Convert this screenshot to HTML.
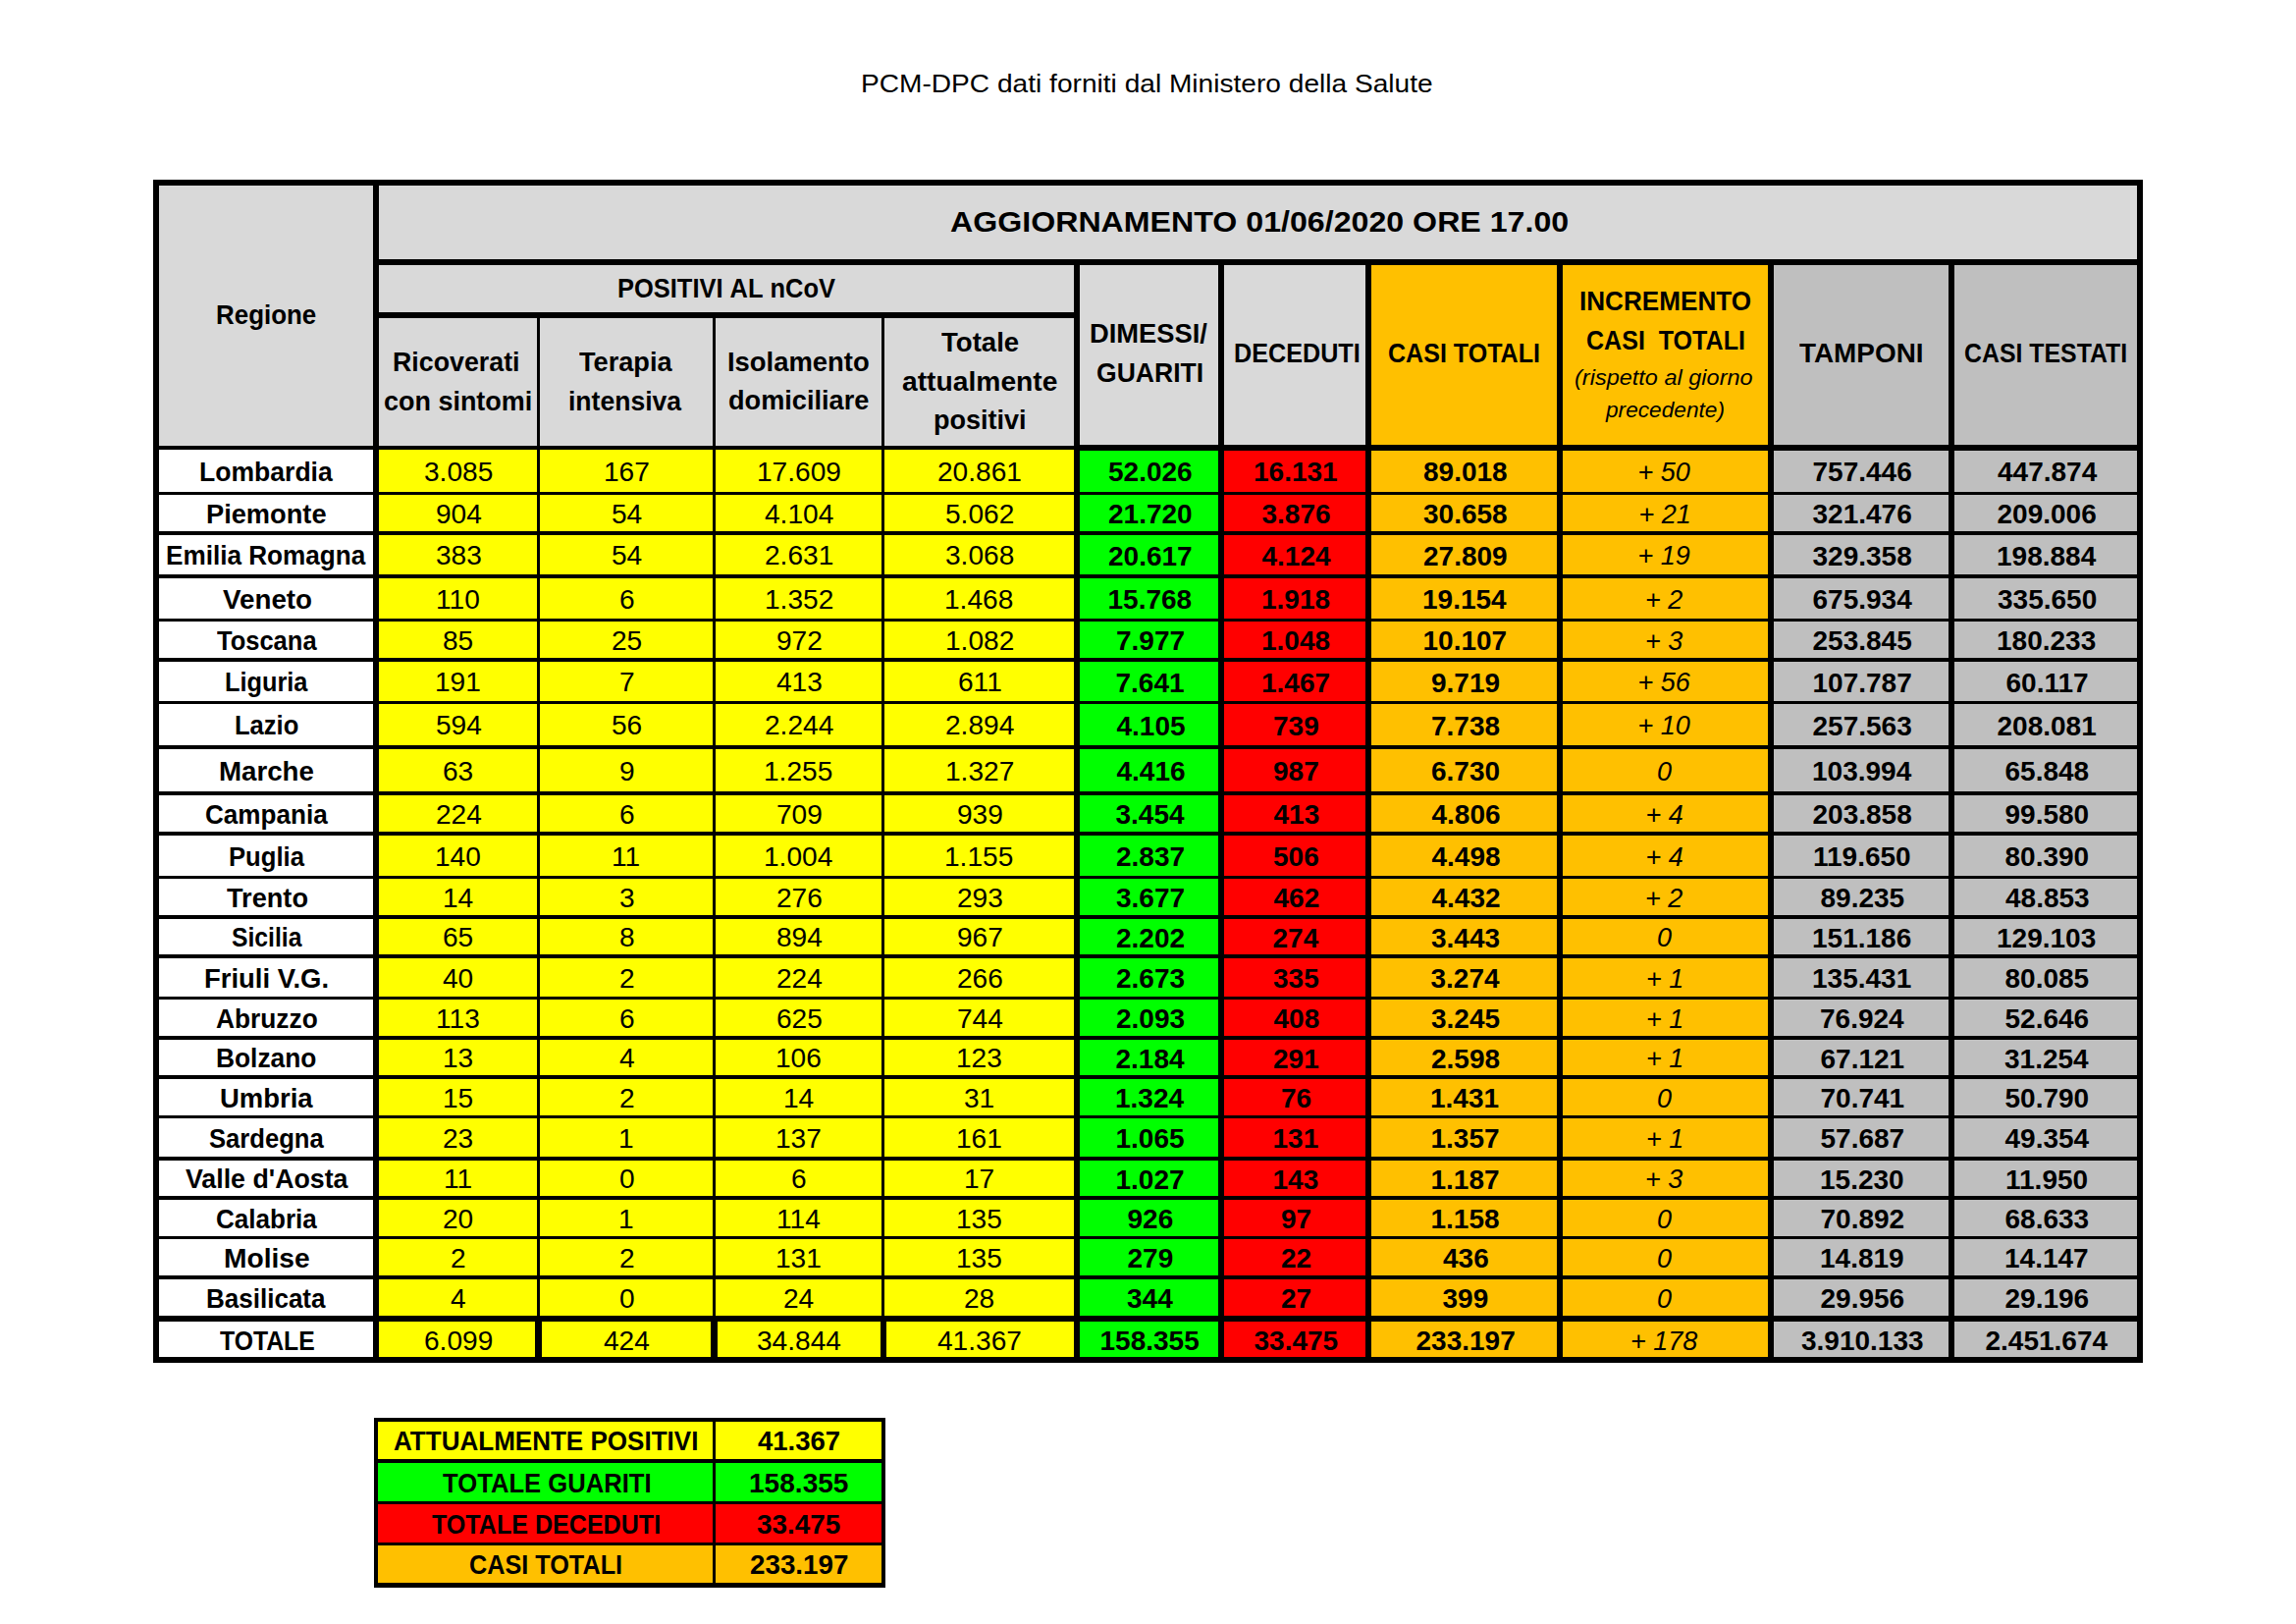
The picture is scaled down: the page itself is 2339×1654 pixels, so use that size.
<!DOCTYPE html>
<html><head><meta charset="utf-8"><style>
html,body{margin:0;padding:0;}
body{width:2339px;height:1654px;position:relative;overflow:hidden;background:#fff;font-family:"Liberation Sans", sans-serif;color:#000;}
body>div{position:absolute;}
.t{white-space:nowrap;transform-origin:0 50%;}
</style></head><body>
<div style="left:156px;top:183px;width:2027px;height:1205px;background:#D9D9D9"></div>
<div style="left:162px;top:458px;width:218px;height:924px;background:#FFFFFF"></div>
<div style="left:386px;top:458px;width:708px;height:924px;background:#FFFF00"></div>
<div style="left:1100px;top:458px;width:141px;height:924px;background:#00FF00"></div>
<div style="left:1247px;top:458px;width:144px;height:924px;background:#FF0000"></div>
<div style="left:1397px;top:270px;width:404px;height:1112px;background:#FFC000"></div>
<div style="left:1807px;top:270px;width:370px;height:1112px;background:#BFBFBF"></div>
<div style="left:156px;top:183px;width:2027px;height:6px;background:#000000"></div>
<div style="left:156px;top:1382px;width:2027px;height:6px;background:#000000"></div>
<div style="left:156px;top:183px;width:6px;height:1205px;background:#000000"></div>
<div style="left:2177px;top:183px;width:6px;height:1205px;background:#000000"></div>
<div style="left:380px;top:183px;width:6px;height:1205px;background:#000000"></div>
<div style="left:380px;top:264px;width:1803px;height:6px;background:#000000"></div>
<div style="left:380px;top:318px;width:720px;height:6px;background:#000000"></div>
<div style="left:547px;top:318px;width:3px;height:1070px;background:#000000"></div>
<div style="left:726px;top:318px;width:3px;height:1070px;background:#000000"></div>
<div style="left:898px;top:318px;width:3px;height:1070px;background:#000000"></div>
<div style="left:1094px;top:264px;width:6px;height:1124px;background:#000000"></div>
<div style="left:1241px;top:264px;width:6px;height:1124px;background:#000000"></div>
<div style="left:1391px;top:264px;width:6px;height:1124px;background:#000000"></div>
<div style="left:1586px;top:264px;width:6px;height:1124px;background:#000000"></div>
<div style="left:1801px;top:264px;width:6px;height:1124px;background:#000000"></div>
<div style="left:1985px;top:264px;width:6px;height:1124px;background:#000000"></div>
<div style="left:156px;top:454px;width:938px;height:4px;background:#000000"></div>
<div style="left:1094px;top:453px;width:1089px;height:6px;background:#000000"></div>
<div style="left:156px;top:501px;width:2027px;height:3px;background:#000000"></div>
<div style="left:156px;top:541px;width:2027px;height:4px;background:#000000"></div>
<div style="left:156px;top:585px;width:2027px;height:4px;background:#000000"></div>
<div style="left:156px;top:630px;width:2027px;height:3px;background:#000000"></div>
<div style="left:156px;top:670px;width:2027px;height:4px;background:#000000"></div>
<div style="left:156px;top:714px;width:2027px;height:3px;background:#000000"></div>
<div style="left:156px;top:759px;width:2027px;height:4px;background:#000000"></div>
<div style="left:156px;top:806px;width:2027px;height:4px;background:#000000"></div>
<div style="left:156px;top:847px;width:2027px;height:4px;background:#000000"></div>
<div style="left:156px;top:892px;width:2027px;height:3px;background:#000000"></div>
<div style="left:156px;top:932px;width:2027px;height:4px;background:#000000"></div>
<div style="left:156px;top:972px;width:2027px;height:4px;background:#000000"></div>
<div style="left:156px;top:1015px;width:2027px;height:3px;background:#000000"></div>
<div style="left:156px;top:1055px;width:2027px;height:4px;background:#000000"></div>
<div style="left:156px;top:1095px;width:2027px;height:4px;background:#000000"></div>
<div style="left:156px;top:1136px;width:2027px;height:3px;background:#000000"></div>
<div style="left:156px;top:1178px;width:2027px;height:4px;background:#000000"></div>
<div style="left:156px;top:1218px;width:2027px;height:4px;background:#000000"></div>
<div style="left:156px;top:1259px;width:2027px;height:3px;background:#000000"></div>
<div style="left:156px;top:1299px;width:2027px;height:4px;background:#000000"></div>
<div style="left:156px;top:1340px;width:2027px;height:6px;background:#000000"></div>
<div style="left:545px;top:1340px;width:7px;height:48px;background:#000000"></div>
<div style="left:724px;top:1340px;width:7px;height:48px;background:#000000"></div>
<div style="left:897px;top:1340px;width:6px;height:48px;background:#000000"></div>
<div style="left:381px;top:1448px;width:521px;height:38px;background:#FFFF00"></div>
<div style="left:381px;top:1490px;width:521px;height:39px;background:#00FF00"></div>
<div style="left:381px;top:1532px;width:521px;height:39px;background:#FF0000"></div>
<div style="left:381px;top:1574px;width:521px;height:38px;background:#FFC000"></div>
<div style="left:381px;top:1444px;width:521px;height:4px;background:#000000"></div>
<div style="left:381px;top:1486px;width:521px;height:4px;background:#000000"></div>
<div style="left:381px;top:1529px;width:521px;height:3px;background:#000000"></div>
<div style="left:381px;top:1571px;width:521px;height:3px;background:#000000"></div>
<div style="left:381px;top:1612px;width:521px;height:5px;background:#000000"></div>
<div style="left:381px;top:1444px;width:4px;height:173px;background:#000000"></div>
<div style="left:726px;top:1444px;width:3px;height:173px;background:#000000"></div>
<div style="left:898px;top:1444px;width:4px;height:173px;background:#000000"></div>
<div class="t" style="left:876.95px;top:73.19px;font-size:25px;line-height:25px;font-weight:normal;font-style:normal;transform:scaleX(1.1243);">PCM-DPC&#160;dati&#160;forniti&#160;dal&#160;Ministero&#160;della&#160;Salute</div>
<div class="t" style="left:967.58px;top:211.40px;font-size:30px;line-height:30px;font-weight:bold;font-style:normal;transform:scaleX(1.0717);">AGGIORNAMENTO&#160;01/06/2020&#160;ORE&#160;17.00</div>
<div class="t" style="left:629.18px;top:279.95px;font-size:28px;line-height:28px;font-weight:bold;font-style:normal;transform:scaleX(0.9091);">POSITIVI&#160;AL&#160;nCoV</div>
<div class="t" style="left:220.40px;top:306.57px;font-size:28px;line-height:28px;font-weight:bold;font-style:normal;transform:scaleX(0.9259);">Regione</div>
<div class="t" style="left:400.34px;top:355.22px;font-size:28px;line-height:28px;font-weight:bold;font-style:normal;transform:scaleX(0.9564);">Ricoverati</div>
<div class="t" style="left:390.54px;top:394.72px;font-size:28px;line-height:28px;font-weight:bold;font-style:normal;transform:scaleX(0.9627);">con&#160;sintomi</div>
<div class="t" style="left:589.75px;top:355.22px;font-size:28px;line-height:28px;font-weight:bold;font-style:normal;transform:scaleX(0.9694);">Terapia</div>
<div class="t" style="left:579.10px;top:394.72px;font-size:28px;line-height:28px;font-weight:bold;font-style:normal;transform:scaleX(0.9479);">intensiva</div>
<div class="t" style="left:741.04px;top:355.22px;font-size:28px;line-height:28px;font-weight:bold;font-style:normal;transform:scaleX(0.9793);">Isolamento</div>
<div class="t" style="left:742.03px;top:393.97px;font-size:28px;line-height:28px;font-weight:bold;font-style:normal;transform:scaleX(0.9692);">domiciliare</div>
<div class="t" style="left:958.75px;top:335.22px;font-size:28px;line-height:28px;font-weight:bold;font-style:normal;transform:scaleX(0.9844);">Totale</div>
<div class="t" style="left:918.99px;top:374.72px;font-size:28px;line-height:28px;font-weight:bold;font-style:normal;transform:scaleX(1.0081);">attualmente</div>
<div class="t" style="left:951.07px;top:413.97px;font-size:28px;line-height:28px;font-weight:bold;font-style:normal;transform:scaleX(0.9654);">positivi</div>
<div class="t" style="left:1110.05px;top:326.47px;font-size:28px;line-height:28px;font-weight:bold;font-style:normal;transform:scaleX(0.9752);">DIMESSI/</div>
<div class="t" style="left:1116.55px;top:366.47px;font-size:28px;line-height:28px;font-weight:bold;font-style:normal;transform:scaleX(0.9487);">GUARITI</div>
<div class="t" style="left:1256.95px;top:345.72px;font-size:28px;line-height:28px;font-weight:bold;font-style:normal;transform:scaleX(0.8993);">DECEDUTI</div>
<div class="t" style="left:1414.11px;top:345.72px;font-size:28px;line-height:28px;font-weight:bold;font-style:normal;transform:scaleX(0.8947);">CASI&#160;TOTALI</div>
<div class="t" style="left:1609.39px;top:292.72px;font-size:28px;line-height:28px;font-weight:bold;font-style:normal;transform:scaleX(0.9324);">INCREMENTO</div>
<div class="t" style="left:1616.11px;top:333.22px;font-size:28px;line-height:28px;font-weight:bold;font-style:normal;transform:scaleX(0.8947);">CASI&#160;&#160;TOTALI</div>
<div class="t" style="left:1833.00px;top:345.72px;font-size:28px;line-height:28px;font-weight:bold;font-style:normal;transform:scaleX(0.9960);">TAMPONI</div>
<div class="t" style="left:2001.11px;top:345.72px;font-size:28px;line-height:28px;font-weight:bold;font-style:normal;transform:scaleX(0.8878);">CASI&#160;TESTATI</div>
<div class="t" style="left:1604.43px;top:373.75px;font-size:22px;line-height:22px;font-weight:normal;font-style:italic;transform:scaleX(1.0685);">(rispetto&#160;al&#160;giorno</div>
<div class="t" style="left:1635.53px;top:406.75px;font-size:22px;line-height:22px;font-weight:normal;font-style:italic;transform:scaleX(1.0299);">precedente)</div>
<div class="t" style="left:203.16px;top:467.81px;font-size:27px;line-height:27px;font-weight:bold;font-style:normal;transform:scaleX(0.9835);">Lombardia</div>
<div class="t" style="left:431.64px;top:467.81px;font-size:27px;line-height:27px;font-weight:normal;font-style:normal;transform:scaleX(1.0400);">3.085</div>
<div class="t" style="left:614.58px;top:467.81px;font-size:27px;line-height:27px;font-weight:normal;font-style:normal;transform:scaleX(1.0400);">167</div>
<div class="t" style="left:770.84px;top:467.81px;font-size:27px;line-height:27px;font-weight:normal;font-style:normal;transform:scaleX(1.0400);">17.609</div>
<div class="t" style="left:955.36px;top:467.81px;font-size:27px;line-height:27px;font-weight:normal;font-style:normal;transform:scaleX(1.0400);">20.861</div>
<div class="t" style="left:1129.00px;top:467.32px;font-size:28px;line-height:28px;font-weight:bold;font-style:normal;">52.026</div>
<div class="t" style="left:1277.00px;top:467.32px;font-size:28px;line-height:28px;font-weight:bold;font-style:normal;">16.131</div>
<div class="t" style="left:1450.00px;top:467.32px;font-size:28px;line-height:28px;font-weight:bold;font-style:normal;">89.018</div>
<div class="t" style="left:1668.50px;top:467.81px;font-size:27px;line-height:27px;font-weight:normal;font-style:italic;">+&#160;50</div>
<div class="t" style="left:1846.50px;top:467.32px;font-size:28px;line-height:28px;font-weight:bold;font-style:normal;">757.446</div>
<div class="t" style="left:2035.00px;top:467.32px;font-size:28px;line-height:28px;font-weight:bold;font-style:normal;">447.874</div>
<div class="t" style="left:209.98px;top:510.81px;font-size:27px;line-height:27px;font-weight:bold;font-style:normal;transform:scaleX(1.0084);">Piemonte</div>
<div class="t" style="left:443.60px;top:510.81px;font-size:27px;line-height:27px;font-weight:normal;font-style:normal;transform:scaleX(1.0400);">904</div>
<div class="t" style="left:622.90px;top:510.81px;font-size:27px;line-height:27px;font-weight:normal;font-style:normal;transform:scaleX(1.0400);">54</div>
<div class="t" style="left:778.64px;top:510.81px;font-size:27px;line-height:27px;font-weight:normal;font-style:normal;transform:scaleX(1.0400);">4.104</div>
<div class="t" style="left:963.16px;top:510.81px;font-size:27px;line-height:27px;font-weight:normal;font-style:normal;transform:scaleX(1.0400);">5.062</div>
<div class="t" style="left:1129.00px;top:510.32px;font-size:28px;line-height:28px;font-weight:bold;font-style:normal;">21.720</div>
<div class="t" style="left:1285.50px;top:510.32px;font-size:28px;line-height:28px;font-weight:bold;font-style:normal;">3.876</div>
<div class="t" style="left:1450.00px;top:510.32px;font-size:28px;line-height:28px;font-weight:bold;font-style:normal;">30.658</div>
<div class="t" style="left:1669.50px;top:510.81px;font-size:27px;line-height:27px;font-weight:normal;font-style:italic;">+&#160;21</div>
<div class="t" style="left:1846.50px;top:510.32px;font-size:28px;line-height:28px;font-weight:bold;font-style:normal;">321.476</div>
<div class="t" style="left:2034.50px;top:510.32px;font-size:28px;line-height:28px;font-weight:bold;font-style:normal;">209.006</div>
<div class="t" style="left:169.44px;top:553.31px;font-size:27px;line-height:27px;font-weight:bold;font-style:normal;transform:scaleX(0.9675);">Emilia&#160;Romagna</div>
<div class="t" style="left:443.60px;top:553.31px;font-size:27px;line-height:27px;font-weight:normal;font-style:normal;transform:scaleX(1.0400);">383</div>
<div class="t" style="left:622.90px;top:553.31px;font-size:27px;line-height:27px;font-weight:normal;font-style:normal;transform:scaleX(1.0400);">54</div>
<div class="t" style="left:779.16px;top:553.31px;font-size:27px;line-height:27px;font-weight:normal;font-style:normal;transform:scaleX(1.0400);">2.631</div>
<div class="t" style="left:962.64px;top:553.31px;font-size:27px;line-height:27px;font-weight:normal;font-style:normal;transform:scaleX(1.0400);">3.068</div>
<div class="t" style="left:1129.00px;top:552.82px;font-size:28px;line-height:28px;font-weight:bold;font-style:normal;">20.617</div>
<div class="t" style="left:1285.50px;top:552.82px;font-size:28px;line-height:28px;font-weight:bold;font-style:normal;">4.124</div>
<div class="t" style="left:1450.00px;top:552.82px;font-size:28px;line-height:28px;font-weight:bold;font-style:normal;">27.809</div>
<div class="t" style="left:1668.50px;top:553.31px;font-size:27px;line-height:27px;font-weight:normal;font-style:italic;">+&#160;19</div>
<div class="t" style="left:1846.50px;top:552.82px;font-size:28px;line-height:28px;font-weight:bold;font-style:normal;">329.358</div>
<div class="t" style="left:2034.00px;top:552.82px;font-size:28px;line-height:28px;font-weight:bold;font-style:normal;">198.884</div>
<div class="t" style="left:226.75px;top:597.81px;font-size:27px;line-height:27px;font-weight:bold;font-style:normal;transform:scaleX(1.0284);">Veneto</div>
<div class="t" style="left:444.12px;top:597.81px;font-size:27px;line-height:27px;font-weight:normal;font-style:normal;transform:scaleX(1.0400);">110</div>
<div class="t" style="left:630.70px;top:597.81px;font-size:27px;line-height:27px;font-weight:normal;font-style:normal;transform:scaleX(1.0400);">6</div>
<div class="t" style="left:778.64px;top:597.81px;font-size:27px;line-height:27px;font-weight:normal;font-style:normal;transform:scaleX(1.0400);">1.352</div>
<div class="t" style="left:962.12px;top:597.81px;font-size:27px;line-height:27px;font-weight:normal;font-style:normal;transform:scaleX(1.0400);">1.468</div>
<div class="t" style="left:1128.50px;top:597.32px;font-size:28px;line-height:28px;font-weight:bold;font-style:normal;">15.768</div>
<div class="t" style="left:1285.00px;top:597.32px;font-size:28px;line-height:28px;font-weight:bold;font-style:normal;">1.918</div>
<div class="t" style="left:1449.00px;top:597.32px;font-size:28px;line-height:28px;font-weight:bold;font-style:normal;">19.154</div>
<div class="t" style="left:1676.00px;top:597.81px;font-size:27px;line-height:27px;font-weight:normal;font-style:italic;">+&#160;2</div>
<div class="t" style="left:1846.50px;top:597.32px;font-size:28px;line-height:28px;font-weight:bold;font-style:normal;">675.934</div>
<div class="t" style="left:2035.00px;top:597.32px;font-size:28px;line-height:28px;font-weight:bold;font-style:normal;">335.650</div>
<div class="t" style="left:221.00px;top:639.81px;font-size:27px;line-height:27px;font-weight:bold;font-style:normal;transform:scaleX(0.9444);">Toscana</div>
<div class="t" style="left:451.40px;top:639.81px;font-size:27px;line-height:27px;font-weight:normal;font-style:normal;transform:scaleX(1.0400);">85</div>
<div class="t" style="left:622.90px;top:639.81px;font-size:27px;line-height:27px;font-weight:normal;font-style:normal;transform:scaleX(1.0400);">25</div>
<div class="t" style="left:790.60px;top:639.81px;font-size:27px;line-height:27px;font-weight:normal;font-style:normal;transform:scaleX(1.0400);">972</div>
<div class="t" style="left:962.64px;top:639.81px;font-size:27px;line-height:27px;font-weight:normal;font-style:normal;transform:scaleX(1.0400);">1.082</div>
<div class="t" style="left:1137.00px;top:639.32px;font-size:28px;line-height:28px;font-weight:bold;font-style:normal;">7.977</div>
<div class="t" style="left:1285.00px;top:639.32px;font-size:28px;line-height:28px;font-weight:bold;font-style:normal;">1.048</div>
<div class="t" style="left:1449.50px;top:639.32px;font-size:28px;line-height:28px;font-weight:bold;font-style:normal;">10.107</div>
<div class="t" style="left:1676.00px;top:639.81px;font-size:27px;line-height:27px;font-weight:normal;font-style:italic;">+&#160;3</div>
<div class="t" style="left:1846.50px;top:639.32px;font-size:28px;line-height:28px;font-weight:bold;font-style:normal;">253.845</div>
<div class="t" style="left:2034.00px;top:639.32px;font-size:28px;line-height:28px;font-weight:bold;font-style:normal;">180.233</div>
<div class="t" style="left:228.88px;top:682.31px;font-size:27px;line-height:27px;font-weight:bold;font-style:normal;transform:scaleX(0.9375);">Liguria</div>
<div class="t" style="left:443.08px;top:682.31px;font-size:27px;line-height:27px;font-weight:normal;font-style:normal;transform:scaleX(1.0400);">191</div>
<div class="t" style="left:630.70px;top:682.31px;font-size:27px;line-height:27px;font-weight:normal;font-style:normal;transform:scaleX(1.0400);">7</div>
<div class="t" style="left:790.60px;top:682.31px;font-size:27px;line-height:27px;font-weight:normal;font-style:normal;transform:scaleX(1.0400);">413</div>
<div class="t" style="left:975.64px;top:682.31px;font-size:27px;line-height:27px;font-weight:normal;font-style:normal;transform:scaleX(1.0400);">611</div>
<div class="t" style="left:1136.50px;top:681.82px;font-size:28px;line-height:28px;font-weight:bold;font-style:normal;">7.641</div>
<div class="t" style="left:1285.00px;top:681.82px;font-size:28px;line-height:28px;font-weight:bold;font-style:normal;">1.467</div>
<div class="t" style="left:1458.00px;top:681.82px;font-size:28px;line-height:28px;font-weight:bold;font-style:normal;">9.719</div>
<div class="t" style="left:1668.50px;top:682.31px;font-size:27px;line-height:27px;font-weight:normal;font-style:italic;">+&#160;56</div>
<div class="t" style="left:1846.50px;top:681.82px;font-size:28px;line-height:28px;font-weight:bold;font-style:normal;">107.787</div>
<div class="t" style="left:2043.50px;top:681.82px;font-size:28px;line-height:28px;font-weight:bold;font-style:normal;">60.117</div>
<div class="t" style="left:238.86px;top:726.31px;font-size:27px;line-height:27px;font-weight:bold;font-style:normal;transform:scaleX(0.9470);">Lazio</div>
<div class="t" style="left:443.60px;top:726.31px;font-size:27px;line-height:27px;font-weight:normal;font-style:normal;transform:scaleX(1.0400);">594</div>
<div class="t" style="left:622.90px;top:726.31px;font-size:27px;line-height:27px;font-weight:normal;font-style:normal;transform:scaleX(1.0400);">56</div>
<div class="t" style="left:778.64px;top:726.31px;font-size:27px;line-height:27px;font-weight:normal;font-style:normal;transform:scaleX(1.0400);">2.244</div>
<div class="t" style="left:962.64px;top:726.31px;font-size:27px;line-height:27px;font-weight:normal;font-style:normal;transform:scaleX(1.0400);">2.894</div>
<div class="t" style="left:1137.50px;top:725.82px;font-size:28px;line-height:28px;font-weight:bold;font-style:normal;">4.105</div>
<div class="t" style="left:1297.00px;top:725.82px;font-size:28px;line-height:28px;font-weight:bold;font-style:normal;">739</div>
<div class="t" style="left:1458.00px;top:725.82px;font-size:28px;line-height:28px;font-weight:bold;font-style:normal;">7.738</div>
<div class="t" style="left:1668.50px;top:726.31px;font-size:27px;line-height:27px;font-weight:normal;font-style:italic;">+&#160;10</div>
<div class="t" style="left:1846.50px;top:725.82px;font-size:28px;line-height:28px;font-weight:bold;font-style:normal;">257.563</div>
<div class="t" style="left:2034.50px;top:725.82px;font-size:28px;line-height:28px;font-weight:bold;font-style:normal;">208.081</div>
<div class="t" style="left:222.83px;top:772.81px;font-size:27px;line-height:27px;font-weight:bold;font-style:normal;transform:scaleX(1.0245);">Marche</div>
<div class="t" style="left:451.40px;top:772.81px;font-size:27px;line-height:27px;font-weight:normal;font-style:normal;transform:scaleX(1.0400);">63</div>
<div class="t" style="left:630.70px;top:772.81px;font-size:27px;line-height:27px;font-weight:normal;font-style:normal;transform:scaleX(1.0400);">9</div>
<div class="t" style="left:778.12px;top:772.81px;font-size:27px;line-height:27px;font-weight:normal;font-style:normal;transform:scaleX(1.0400);">1.255</div>
<div class="t" style="left:962.64px;top:772.81px;font-size:27px;line-height:27px;font-weight:normal;font-style:normal;transform:scaleX(1.0400);">1.327</div>
<div class="t" style="left:1137.50px;top:772.32px;font-size:28px;line-height:28px;font-weight:bold;font-style:normal;">4.416</div>
<div class="t" style="left:1297.00px;top:772.32px;font-size:28px;line-height:28px;font-weight:bold;font-style:normal;">987</div>
<div class="t" style="left:1458.00px;top:772.32px;font-size:28px;line-height:28px;font-weight:bold;font-style:normal;">6.730</div>
<div class="t" style="left:1688.00px;top:772.81px;font-size:27px;line-height:27px;font-weight:normal;font-style:italic;">0</div>
<div class="t" style="left:1846.00px;top:772.32px;font-size:28px;line-height:28px;font-weight:bold;font-style:normal;">103.994</div>
<div class="t" style="left:2042.50px;top:772.32px;font-size:28px;line-height:28px;font-weight:bold;font-style:normal;">65.848</div>
<div class="t" style="left:209.16px;top:816.81px;font-size:27px;line-height:27px;font-weight:bold;font-style:normal;transform:scaleX(0.9668);">Campania</div>
<div class="t" style="left:443.60px;top:816.81px;font-size:27px;line-height:27px;font-weight:normal;font-style:normal;transform:scaleX(1.0400);">224</div>
<div class="t" style="left:630.70px;top:816.81px;font-size:27px;line-height:27px;font-weight:normal;font-style:normal;transform:scaleX(1.0400);">6</div>
<div class="t" style="left:790.60px;top:816.81px;font-size:27px;line-height:27px;font-weight:normal;font-style:normal;transform:scaleX(1.0400);">709</div>
<div class="t" style="left:974.60px;top:816.81px;font-size:27px;line-height:27px;font-weight:normal;font-style:normal;transform:scaleX(1.0400);">939</div>
<div class="t" style="left:1136.50px;top:816.32px;font-size:28px;line-height:28px;font-weight:bold;font-style:normal;">3.454</div>
<div class="t" style="left:1297.50px;top:816.32px;font-size:28px;line-height:28px;font-weight:bold;font-style:normal;">413</div>
<div class="t" style="left:1458.50px;top:816.32px;font-size:28px;line-height:28px;font-weight:bold;font-style:normal;">4.806</div>
<div class="t" style="left:1676.50px;top:816.81px;font-size:27px;line-height:27px;font-weight:normal;font-style:italic;">+&#160;4</div>
<div class="t" style="left:1846.50px;top:816.32px;font-size:28px;line-height:28px;font-weight:bold;font-style:normal;">203.858</div>
<div class="t" style="left:2042.50px;top:816.32px;font-size:28px;line-height:28px;font-weight:bold;font-style:normal;">99.580</div>
<div class="t" style="left:232.60px;top:859.81px;font-size:27px;line-height:27px;font-weight:bold;font-style:normal;transform:scaleX(0.9494);">Puglia</div>
<div class="t" style="left:443.08px;top:859.81px;font-size:27px;line-height:27px;font-weight:normal;font-style:normal;transform:scaleX(1.0400);">140</div>
<div class="t" style="left:623.42px;top:859.81px;font-size:27px;line-height:27px;font-weight:normal;font-style:normal;transform:scaleX(1.0400);">11</div>
<div class="t" style="left:778.12px;top:859.81px;font-size:27px;line-height:27px;font-weight:normal;font-style:normal;transform:scaleX(1.0400);">1.004</div>
<div class="t" style="left:962.12px;top:859.81px;font-size:27px;line-height:27px;font-weight:normal;font-style:normal;transform:scaleX(1.0400);">1.155</div>
<div class="t" style="left:1137.00px;top:859.32px;font-size:28px;line-height:28px;font-weight:bold;font-style:normal;">2.837</div>
<div class="t" style="left:1297.00px;top:859.32px;font-size:28px;line-height:28px;font-weight:bold;font-style:normal;">506</div>
<div class="t" style="left:1458.50px;top:859.32px;font-size:28px;line-height:28px;font-weight:bold;font-style:normal;">4.498</div>
<div class="t" style="left:1676.50px;top:859.81px;font-size:27px;line-height:27px;font-weight:normal;font-style:italic;">+&#160;4</div>
<div class="t" style="left:1847.00px;top:859.32px;font-size:28px;line-height:28px;font-weight:bold;font-style:normal;">119.650</div>
<div class="t" style="left:2042.50px;top:859.32px;font-size:28px;line-height:28px;font-weight:bold;font-style:normal;">80.390</div>
<div class="t" style="left:230.75px;top:901.81px;font-size:27px;line-height:27px;font-weight:bold;font-style:normal;transform:scaleX(1.0061);">Trento</div>
<div class="t" style="left:450.88px;top:901.81px;font-size:27px;line-height:27px;font-weight:normal;font-style:normal;transform:scaleX(1.0400);">14</div>
<div class="t" style="left:630.70px;top:901.81px;font-size:27px;line-height:27px;font-weight:normal;font-style:normal;transform:scaleX(1.0400);">3</div>
<div class="t" style="left:790.60px;top:901.81px;font-size:27px;line-height:27px;font-weight:normal;font-style:normal;transform:scaleX(1.0400);">276</div>
<div class="t" style="left:974.60px;top:901.81px;font-size:27px;line-height:27px;font-weight:normal;font-style:normal;transform:scaleX(1.0400);">293</div>
<div class="t" style="left:1137.00px;top:901.32px;font-size:28px;line-height:28px;font-weight:bold;font-style:normal;">3.677</div>
<div class="t" style="left:1297.50px;top:901.32px;font-size:28px;line-height:28px;font-weight:bold;font-style:normal;">462</div>
<div class="t" style="left:1458.50px;top:901.32px;font-size:28px;line-height:28px;font-weight:bold;font-style:normal;">4.432</div>
<div class="t" style="left:1676.00px;top:901.81px;font-size:27px;line-height:27px;font-weight:normal;font-style:italic;">+&#160;2</div>
<div class="t" style="left:1854.50px;top:901.32px;font-size:28px;line-height:28px;font-weight:bold;font-style:normal;">89.235</div>
<div class="t" style="left:2043.00px;top:901.32px;font-size:28px;line-height:28px;font-weight:bold;font-style:normal;">48.853</div>
<div class="t" style="left:235.83px;top:942.31px;font-size:27px;line-height:27px;font-weight:bold;font-style:normal;transform:scaleX(0.9156);">Sicilia</div>
<div class="t" style="left:451.40px;top:942.31px;font-size:27px;line-height:27px;font-weight:normal;font-style:normal;transform:scaleX(1.0400);">65</div>
<div class="t" style="left:630.70px;top:942.31px;font-size:27px;line-height:27px;font-weight:normal;font-style:normal;transform:scaleX(1.0400);">8</div>
<div class="t" style="left:790.60px;top:942.31px;font-size:27px;line-height:27px;font-weight:normal;font-style:normal;transform:scaleX(1.0400);">894</div>
<div class="t" style="left:974.60px;top:942.31px;font-size:27px;line-height:27px;font-weight:normal;font-style:normal;transform:scaleX(1.0400);">967</div>
<div class="t" style="left:1137.00px;top:941.82px;font-size:28px;line-height:28px;font-weight:bold;font-style:normal;">2.202</div>
<div class="t" style="left:1296.50px;top:941.82px;font-size:28px;line-height:28px;font-weight:bold;font-style:normal;">274</div>
<div class="t" style="left:1458.00px;top:941.82px;font-size:28px;line-height:28px;font-weight:bold;font-style:normal;">3.443</div>
<div class="t" style="left:1688.00px;top:942.31px;font-size:27px;line-height:27px;font-weight:normal;font-style:italic;">0</div>
<div class="t" style="left:1846.00px;top:941.82px;font-size:28px;line-height:28px;font-weight:bold;font-style:normal;">151.186</div>
<div class="t" style="left:2034.00px;top:941.82px;font-size:28px;line-height:28px;font-weight:bold;font-style:normal;">129.103</div>
<div class="t" style="left:208.47px;top:983.81px;font-size:27px;line-height:27px;font-weight:bold;font-style:normal;transform:scaleX(1.0165);">Friuli&#160;V.G.</div>
<div class="t" style="left:451.40px;top:983.81px;font-size:27px;line-height:27px;font-weight:normal;font-style:normal;transform:scaleX(1.0400);">40</div>
<div class="t" style="left:630.70px;top:983.81px;font-size:27px;line-height:27px;font-weight:normal;font-style:normal;transform:scaleX(1.0400);">2</div>
<div class="t" style="left:790.60px;top:983.81px;font-size:27px;line-height:27px;font-weight:normal;font-style:normal;transform:scaleX(1.0400);">224</div>
<div class="t" style="left:974.60px;top:983.81px;font-size:27px;line-height:27px;font-weight:normal;font-style:normal;transform:scaleX(1.0400);">266</div>
<div class="t" style="left:1137.00px;top:983.32px;font-size:28px;line-height:28px;font-weight:bold;font-style:normal;">2.673</div>
<div class="t" style="left:1297.00px;top:983.32px;font-size:28px;line-height:28px;font-weight:bold;font-style:normal;">335</div>
<div class="t" style="left:1457.50px;top:983.32px;font-size:28px;line-height:28px;font-weight:bold;font-style:normal;">3.274</div>
<div class="t" style="left:1677.00px;top:983.81px;font-size:27px;line-height:27px;font-weight:normal;font-style:italic;">+&#160;1</div>
<div class="t" style="left:1846.00px;top:983.32px;font-size:28px;line-height:28px;font-weight:bold;font-style:normal;">135.431</div>
<div class="t" style="left:2042.50px;top:983.32px;font-size:28px;line-height:28px;font-weight:bold;font-style:normal;">80.085</div>
<div class="t" style="left:219.90px;top:1024.81px;font-size:27px;line-height:27px;font-weight:bold;font-style:normal;transform:scaleX(0.9738);">Abruzzo</div>
<div class="t" style="left:444.12px;top:1024.81px;font-size:27px;line-height:27px;font-weight:normal;font-style:normal;transform:scaleX(1.0400);">113</div>
<div class="t" style="left:630.70px;top:1024.81px;font-size:27px;line-height:27px;font-weight:normal;font-style:normal;transform:scaleX(1.0400);">6</div>
<div class="t" style="left:790.60px;top:1024.81px;font-size:27px;line-height:27px;font-weight:normal;font-style:normal;transform:scaleX(1.0400);">625</div>
<div class="t" style="left:974.60px;top:1024.81px;font-size:27px;line-height:27px;font-weight:normal;font-style:normal;transform:scaleX(1.0400);">744</div>
<div class="t" style="left:1137.00px;top:1024.32px;font-size:28px;line-height:28px;font-weight:bold;font-style:normal;">2.093</div>
<div class="t" style="left:1297.50px;top:1024.32px;font-size:28px;line-height:28px;font-weight:bold;font-style:normal;">408</div>
<div class="t" style="left:1458.00px;top:1024.32px;font-size:28px;line-height:28px;font-weight:bold;font-style:normal;">3.245</div>
<div class="t" style="left:1677.00px;top:1024.81px;font-size:27px;line-height:27px;font-weight:normal;font-style:italic;">+&#160;1</div>
<div class="t" style="left:1854.00px;top:1024.32px;font-size:28px;line-height:28px;font-weight:bold;font-style:normal;">76.924</div>
<div class="t" style="left:2042.50px;top:1024.32px;font-size:28px;line-height:28px;font-weight:bold;font-style:normal;">52.646</div>
<div class="t" style="left:220.30px;top:1065.31px;font-size:27px;line-height:27px;font-weight:bold;font-style:normal;transform:scaleX(0.9755);">Bolzano</div>
<div class="t" style="left:450.88px;top:1065.31px;font-size:27px;line-height:27px;font-weight:normal;font-style:normal;transform:scaleX(1.0400);">13</div>
<div class="t" style="left:630.70px;top:1065.31px;font-size:27px;line-height:27px;font-weight:normal;font-style:normal;transform:scaleX(1.0400);">4</div>
<div class="t" style="left:790.08px;top:1065.31px;font-size:27px;line-height:27px;font-weight:normal;font-style:normal;transform:scaleX(1.0400);">106</div>
<div class="t" style="left:974.08px;top:1065.31px;font-size:27px;line-height:27px;font-weight:normal;font-style:normal;transform:scaleX(1.0400);">123</div>
<div class="t" style="left:1136.50px;top:1064.82px;font-size:28px;line-height:28px;font-weight:bold;font-style:normal;">2.184</div>
<div class="t" style="left:1297.00px;top:1064.82px;font-size:28px;line-height:28px;font-weight:bold;font-style:normal;">291</div>
<div class="t" style="left:1458.00px;top:1064.82px;font-size:28px;line-height:28px;font-weight:bold;font-style:normal;">2.598</div>
<div class="t" style="left:1677.00px;top:1065.31px;font-size:27px;line-height:27px;font-weight:normal;font-style:italic;">+&#160;1</div>
<div class="t" style="left:1854.50px;top:1064.82px;font-size:28px;line-height:28px;font-weight:bold;font-style:normal;">67.121</div>
<div class="t" style="left:2042.00px;top:1064.82px;font-size:28px;line-height:28px;font-weight:bold;font-style:normal;">31.254</div>
<div class="t" style="left:223.72px;top:1105.81px;font-size:27px;line-height:27px;font-weight:bold;font-style:normal;transform:scaleX(1.0165);">Umbria</div>
<div class="t" style="left:450.88px;top:1105.81px;font-size:27px;line-height:27px;font-weight:normal;font-style:normal;transform:scaleX(1.0400);">15</div>
<div class="t" style="left:630.70px;top:1105.81px;font-size:27px;line-height:27px;font-weight:normal;font-style:normal;transform:scaleX(1.0400);">2</div>
<div class="t" style="left:797.88px;top:1105.81px;font-size:27px;line-height:27px;font-weight:normal;font-style:normal;transform:scaleX(1.0400);">14</div>
<div class="t" style="left:982.40px;top:1105.81px;font-size:27px;line-height:27px;font-weight:normal;font-style:normal;transform:scaleX(1.0400);">31</div>
<div class="t" style="left:1136.00px;top:1105.32px;font-size:28px;line-height:28px;font-weight:bold;font-style:normal;">1.324</div>
<div class="t" style="left:1305.00px;top:1105.32px;font-size:28px;line-height:28px;font-weight:bold;font-style:normal;">76</div>
<div class="t" style="left:1457.00px;top:1105.32px;font-size:28px;line-height:28px;font-weight:bold;font-style:normal;">1.431</div>
<div class="t" style="left:1688.00px;top:1105.81px;font-size:27px;line-height:27px;font-weight:normal;font-style:italic;">0</div>
<div class="t" style="left:1854.50px;top:1105.32px;font-size:28px;line-height:28px;font-weight:bold;font-style:normal;">70.741</div>
<div class="t" style="left:2042.50px;top:1105.32px;font-size:28px;line-height:28px;font-weight:bold;font-style:normal;">50.790</div>
<div class="t" style="left:213.18px;top:1146.81px;font-size:27px;line-height:27px;font-weight:bold;font-style:normal;transform:scaleX(0.9488);">Sardegna</div>
<div class="t" style="left:451.40px;top:1146.81px;font-size:27px;line-height:27px;font-weight:normal;font-style:normal;transform:scaleX(1.0400);">23</div>
<div class="t" style="left:630.18px;top:1146.81px;font-size:27px;line-height:27px;font-weight:normal;font-style:normal;transform:scaleX(1.0400);">1</div>
<div class="t" style="left:790.08px;top:1146.81px;font-size:27px;line-height:27px;font-weight:normal;font-style:normal;transform:scaleX(1.0400);">137</div>
<div class="t" style="left:974.08px;top:1146.81px;font-size:27px;line-height:27px;font-weight:normal;font-style:normal;transform:scaleX(1.0400);">161</div>
<div class="t" style="left:1136.50px;top:1146.32px;font-size:28px;line-height:28px;font-weight:bold;font-style:normal;">1.065</div>
<div class="t" style="left:1296.50px;top:1146.32px;font-size:28px;line-height:28px;font-weight:bold;font-style:normal;">131</div>
<div class="t" style="left:1457.50px;top:1146.32px;font-size:28px;line-height:28px;font-weight:bold;font-style:normal;">1.357</div>
<div class="t" style="left:1677.00px;top:1146.81px;font-size:27px;line-height:27px;font-weight:normal;font-style:italic;">+&#160;1</div>
<div class="t" style="left:1854.50px;top:1146.32px;font-size:28px;line-height:28px;font-weight:bold;font-style:normal;">57.687</div>
<div class="t" style="left:2042.50px;top:1146.32px;font-size:28px;line-height:28px;font-weight:bold;font-style:normal;">49.354</div>
<div class="t" style="left:189.25px;top:1188.31px;font-size:27px;line-height:27px;font-weight:bold;font-style:normal;transform:scaleX(0.9910);">Valle&#160;d'Aosta</div>
<div class="t" style="left:451.92px;top:1188.31px;font-size:27px;line-height:27px;font-weight:normal;font-style:normal;transform:scaleX(1.0400);">11</div>
<div class="t" style="left:630.70px;top:1188.31px;font-size:27px;line-height:27px;font-weight:normal;font-style:normal;transform:scaleX(1.0400);">0</div>
<div class="t" style="left:806.20px;top:1188.31px;font-size:27px;line-height:27px;font-weight:normal;font-style:normal;transform:scaleX(1.0400);">6</div>
<div class="t" style="left:981.88px;top:1188.31px;font-size:27px;line-height:27px;font-weight:normal;font-style:normal;transform:scaleX(1.0400);">17</div>
<div class="t" style="left:1136.50px;top:1187.82px;font-size:28px;line-height:28px;font-weight:bold;font-style:normal;">1.027</div>
<div class="t" style="left:1296.50px;top:1187.82px;font-size:28px;line-height:28px;font-weight:bold;font-style:normal;">143</div>
<div class="t" style="left:1457.50px;top:1187.82px;font-size:28px;line-height:28px;font-weight:bold;font-style:normal;">1.187</div>
<div class="t" style="left:1676.00px;top:1188.31px;font-size:27px;line-height:27px;font-weight:normal;font-style:italic;">+&#160;3</div>
<div class="t" style="left:1854.00px;top:1187.82px;font-size:28px;line-height:28px;font-weight:bold;font-style:normal;">15.230</div>
<div class="t" style="left:2043.00px;top:1187.82px;font-size:28px;line-height:28px;font-weight:bold;font-style:normal;">11.950</div>
<div class="t" style="left:219.91px;top:1228.81px;font-size:27px;line-height:27px;font-weight:bold;font-style:normal;transform:scaleX(0.9646);">Calabria</div>
<div class="t" style="left:451.40px;top:1228.81px;font-size:27px;line-height:27px;font-weight:normal;font-style:normal;transform:scaleX(1.0400);">20</div>
<div class="t" style="left:630.18px;top:1228.81px;font-size:27px;line-height:27px;font-weight:normal;font-style:normal;transform:scaleX(1.0400);">1</div>
<div class="t" style="left:791.12px;top:1228.81px;font-size:27px;line-height:27px;font-weight:normal;font-style:normal;transform:scaleX(1.0400);">114</div>
<div class="t" style="left:974.08px;top:1228.81px;font-size:27px;line-height:27px;font-weight:normal;font-style:normal;transform:scaleX(1.0400);">135</div>
<div class="t" style="left:1148.50px;top:1228.32px;font-size:28px;line-height:28px;font-weight:bold;font-style:normal;">926</div>
<div class="t" style="left:1305.00px;top:1228.32px;font-size:28px;line-height:28px;font-weight:bold;font-style:normal;">97</div>
<div class="t" style="left:1457.50px;top:1228.32px;font-size:28px;line-height:28px;font-weight:bold;font-style:normal;">1.158</div>
<div class="t" style="left:1688.00px;top:1228.81px;font-size:27px;line-height:27px;font-weight:normal;font-style:italic;">0</div>
<div class="t" style="left:1854.50px;top:1228.32px;font-size:28px;line-height:28px;font-weight:bold;font-style:normal;">70.892</div>
<div class="t" style="left:2042.50px;top:1228.32px;font-size:28px;line-height:28px;font-weight:bold;font-style:normal;">68.633</div>
<div class="t" style="left:227.66px;top:1268.81px;font-size:27px;line-height:27px;font-weight:bold;font-style:normal;transform:scaleX(1.0432);">Molise</div>
<div class="t" style="left:459.20px;top:1268.81px;font-size:27px;line-height:27px;font-weight:normal;font-style:normal;transform:scaleX(1.0400);">2</div>
<div class="t" style="left:630.70px;top:1268.81px;font-size:27px;line-height:27px;font-weight:normal;font-style:normal;transform:scaleX(1.0400);">2</div>
<div class="t" style="left:790.08px;top:1268.81px;font-size:27px;line-height:27px;font-weight:normal;font-style:normal;transform:scaleX(1.0400);">131</div>
<div class="t" style="left:974.08px;top:1268.81px;font-size:27px;line-height:27px;font-weight:normal;font-style:normal;transform:scaleX(1.0400);">135</div>
<div class="t" style="left:1148.50px;top:1268.32px;font-size:28px;line-height:28px;font-weight:bold;font-style:normal;">279</div>
<div class="t" style="left:1305.00px;top:1268.32px;font-size:28px;line-height:28px;font-weight:bold;font-style:normal;">22</div>
<div class="t" style="left:1470.00px;top:1268.32px;font-size:28px;line-height:28px;font-weight:bold;font-style:normal;">436</div>
<div class="t" style="left:1688.00px;top:1268.81px;font-size:27px;line-height:27px;font-weight:normal;font-style:italic;">0</div>
<div class="t" style="left:1854.00px;top:1268.32px;font-size:28px;line-height:28px;font-weight:bold;font-style:normal;">14.819</div>
<div class="t" style="left:2042.00px;top:1268.32px;font-size:28px;line-height:28px;font-weight:bold;font-style:normal;">14.147</div>
<div class="t" style="left:210.32px;top:1309.81px;font-size:27px;line-height:27px;font-weight:bold;font-style:normal;transform:scaleX(0.9637);">Basilicata</div>
<div class="t" style="left:459.20px;top:1309.81px;font-size:27px;line-height:27px;font-weight:normal;font-style:normal;transform:scaleX(1.0400);">4</div>
<div class="t" style="left:630.70px;top:1309.81px;font-size:27px;line-height:27px;font-weight:normal;font-style:normal;transform:scaleX(1.0400);">0</div>
<div class="t" style="left:798.40px;top:1309.81px;font-size:27px;line-height:27px;font-weight:normal;font-style:normal;transform:scaleX(1.0400);">24</div>
<div class="t" style="left:982.40px;top:1309.81px;font-size:27px;line-height:27px;font-weight:normal;font-style:normal;transform:scaleX(1.0400);">28</div>
<div class="t" style="left:1148.00px;top:1309.32px;font-size:28px;line-height:28px;font-weight:bold;font-style:normal;">344</div>
<div class="t" style="left:1305.00px;top:1309.32px;font-size:28px;line-height:28px;font-weight:bold;font-style:normal;">27</div>
<div class="t" style="left:1469.50px;top:1309.32px;font-size:28px;line-height:28px;font-weight:bold;font-style:normal;">399</div>
<div class="t" style="left:1688.00px;top:1309.81px;font-size:27px;line-height:27px;font-weight:normal;font-style:italic;">0</div>
<div class="t" style="left:1854.50px;top:1309.32px;font-size:28px;line-height:28px;font-weight:bold;font-style:normal;">29.956</div>
<div class="t" style="left:2042.50px;top:1309.32px;font-size:28px;line-height:28px;font-weight:bold;font-style:normal;">29.196</div>
<div class="t" style="left:223.88px;top:1352.81px;font-size:27px;line-height:27px;font-weight:bold;font-style:normal;transform:scaleX(0.9167);">TOTALE</div>
<div class="t" style="left:432.16px;top:1352.81px;font-size:27px;line-height:27px;font-weight:normal;font-style:normal;transform:scaleX(1.0400);">6.099</div>
<div class="t" style="left:615.10px;top:1352.81px;font-size:27px;line-height:27px;font-weight:normal;font-style:normal;transform:scaleX(1.0400);">424</div>
<div class="t" style="left:770.84px;top:1352.81px;font-size:27px;line-height:27px;font-weight:normal;font-style:normal;transform:scaleX(1.0400);">34.844</div>
<div class="t" style="left:955.36px;top:1352.81px;font-size:27px;line-height:27px;font-weight:normal;font-style:normal;transform:scaleX(1.0400);">41.367</div>
<div class="t" style="left:1120.50px;top:1352.32px;font-size:28px;line-height:28px;font-weight:bold;font-style:normal;">158.355</div>
<div class="t" style="left:1277.50px;top:1352.32px;font-size:28px;line-height:28px;font-weight:bold;font-style:normal;">33.475</div>
<div class="t" style="left:1442.50px;top:1352.32px;font-size:28px;line-height:28px;font-weight:bold;font-style:normal;">233.197</div>
<div class="t" style="left:1661.00px;top:1352.81px;font-size:27px;line-height:27px;font-weight:normal;font-style:italic;">+&#160;178</div>
<div class="t" style="left:1835.00px;top:1352.32px;font-size:28px;line-height:28px;font-weight:bold;font-style:normal;">3.910.133</div>
<div class="t" style="left:2022.50px;top:1352.32px;font-size:28px;line-height:28px;font-weight:bold;font-style:normal;">2.451.674</div>
<div class="t" style="left:401.04px;top:1454.56px;font-size:27px;line-height:27px;font-weight:bold;font-style:normal;transform:scaleX(0.9639);">ATTUALMENTE&#160;POSITIVI</div>
<div class="t" style="left:772.00px;top:1454.56px;font-size:27px;line-height:27px;font-weight:bold;font-style:normal;transform:scaleX(1.0183);">41.367</div>
<div class="t" style="left:450.50px;top:1497.69px;font-size:27px;line-height:27px;font-weight:bold;font-style:normal;transform:scaleX(0.9493);">TOTALE&#160;GUARITI</div>
<div class="t" style="left:762.92px;top:1497.69px;font-size:27px;line-height:27px;font-weight:bold;font-style:normal;transform:scaleX(1.0395);">158.355</div>
<div class="t" style="left:440.00px;top:1539.71px;font-size:27px;line-height:27px;font-weight:bold;font-style:normal;transform:scaleX(0.9287);">TOTALE&#160;DECEDUTI</div>
<div class="t" style="left:770.97px;top:1539.71px;font-size:27px;line-height:27px;font-weight:bold;font-style:normal;transform:scaleX(1.0309);">33.475</div>
<div class="t" style="left:478.32px;top:1581.41px;font-size:27px;line-height:27px;font-weight:bold;font-style:normal;transform:scaleX(0.9345);">CASI&#160;TOTALI</div>
<div class="t" style="left:763.97px;top:1581.41px;font-size:27px;line-height:27px;font-weight:bold;font-style:normal;transform:scaleX(1.0286);">233.197</div>
</body></html>
